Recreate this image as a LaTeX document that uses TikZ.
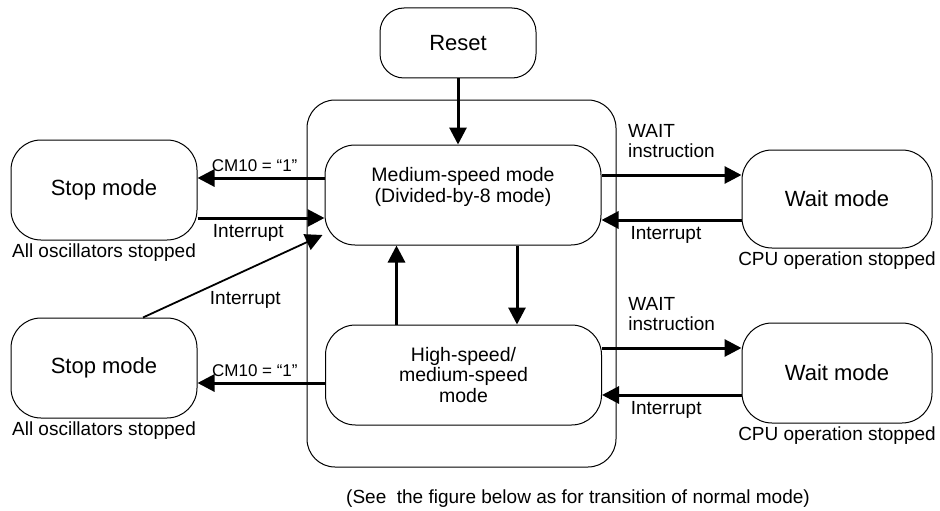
\documentclass[tikz,border=0pt]{standalone}
\usepackage{fontspec}
\setmainfont{Liberation Sans}
\usepackage{tikz}
\usetikzlibrary{arrows.meta}
\newcommand{\boxfont}{\fontsize{22}{26}\selectfont}
\newcommand{\speedfont}{\fontsize{19.5}{20.5}\selectfont}
\newcommand{\lblfont}{\fontsize{19}{20.5}\selectfont}

\begin{document}
\begin{tikzpicture}[x=1pt,y=1pt]
\tikzset{>={Triangle[width=17pt,length=17pt]}}
\tikzstyle{modebox}=[draw, line width=1pt, rounded corners=30pt, minimum width=186pt, minimum height=100pt, font=\boxfont]
\tikzstyle{speedbox}=[draw, line width=1pt, rounded corners=30pt, minimum width=276pt, minimum height=100pt, font=\speedfont, align=center]
\tikzstyle{lbl}=[font=\lblfont, align=left]
\tikzstyle{trans}=[->, line width=3pt]
\useasboundingbox (0,0) rectangle (940,-511);

% states
\node[draw, line width=1pt, rounded corners=24pt, minimum width=156pt, minimum height=70pt, font=\boxfont](reset) at (458,-43){Reset};
\node[draw, line width=1pt, rounded corners=28pt, minimum width=309pt, minimum height=367pt](frame) at (461.5,-283.5){};
\node[speedbox, label={[font=\speedfont, align=center, yshift=8pt]center:{Medium-speed mode\\(Divided-by-8 mode)}}](med) at (463,-195){};
\node[speedbox](high) at (463.5,-375){High-speed/\\medium-speed\\mode};
\node[modebox, label={[lbl]below:All oscillators stopped}](stopA) at (104,-190){Stop mode};
\node[modebox, label={[lbl]below:All oscillators stopped}](stopB) at (104,-368){Stop mode};
\node[modebox, minimum width=190pt, minimum height=98pt, label={[lbl]below:CPU operation stopped}](waitA) at (837,-199){Wait mode};
\node[modebox, minimum width=190pt, label={[lbl]below:CPU operation stopped}](waitB) at (837,-373){Wait mode};

% transitions
\draw[trans] (reset) -- (reset.south |- med.north);
\draw[trans] ([yshift=17pt]med.west) -- node[lbl, font=\fontsize{17}{19}\selectfont, above=2pt, pos=0.55]{CM10 = “1”} ([yshift=17pt]med.west -| stopA.east);
\draw[trans] ([yshift=-28pt]stopA.east) -- node[lbl, below=2pt, pos=0.4]{Interrupt} ([yshift=-28pt]stopA.east -| med.west);
\draw[line width=1.8pt, ->] ([xshift=39pt]stopB.north) -- node[lbl, below=17pt, pos=0.57]{Interrupt} ([xshift=-2pt,yshift=-40pt]med.west);
\draw[trans] ([xshift=-67pt]high.north) -- ([xshift=-67pt]high.north |- med.south);
\draw[trans] ([xshift=54pt]med.south) -- ([xshift=54pt]med.south |- high.north);
\draw[trans] ([yshift=20pt]med.east) -- node[lbl, above=12pt]{WAIT\\instruction} ([yshift=20pt]med.east -| waitA.west);
\draw[trans] ([yshift=-21pt]waitA.west) -- node[lbl, below=2pt, pos=0.54]{Interrupt} ([yshift=-21pt]waitA.west -| med.east);
\draw[trans] ([yshift=-8pt]high.west) -- node[lbl, font=\fontsize{17}{19}\selectfont, above=2pt, pos=0.55]{CM10 = “1”} ([yshift=-8pt]high.west -| stopB.east);
\draw[trans] ([yshift=27pt]high.east) -- node[lbl, above=12pt]{WAIT\\instruction} ([yshift=27pt]high.east -| waitB.west);
\draw[trans] ([yshift=-22pt]waitB.west) -- node[lbl, below=2pt, pos=0.54]{Interrupt} ([yshift=-22pt]waitB.west -| high.east);

\node[lbl](note) at (578,-499){(See\ \ the figure below as for transition of normal mode)};
\end{tikzpicture}
\end{document}
